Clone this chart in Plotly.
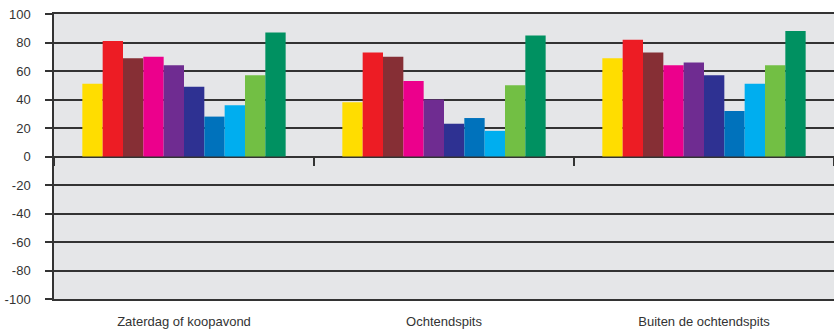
import plotly.graph_objects as go

categories = ["Zaterdag of koopavond", "Ochtendspits", "Buiten de ochtendspits"]
series_names = ["S1", "S2", "S3", "S4", "S5", "S6", "S7", "S8", "S9", "S10"]
values = [
    [51, 38, 69],
    [81, 73, 82],
    [69, 70, 73],
    [70, 53, 64],
    [64, 40, 66],
    [49, 23, 57],
    [28, 27, 32],
    [36, 18, 51],
    [57, 50, 64],
    [87, 85, 88],
]
colors = ["#FFDD00", "#ED1C24", "#862F35", "#EC008C", "#6F2C91",
          "#2E3192", "#0072BC", "#00AEEF", "#72BF44", "#009161"]
y_ticks = [-100, -80, -60, -40, -20, 0, 20, 40, 60, 80, 100]

fig = go.Figure()
for name, vals, col in zip(series_names, values, colors):
    fig.add_trace(go.Bar(x=categories, y=vals, name=name, marker_color=col,
                         marker_line_width=0))
# invisible trace to drive the zero-line category axis
fig.add_trace(go.Scatter(x=categories, y=[0, 0, 0], xaxis="x2", mode="markers",
                         marker_opacity=0, showlegend=False, hoverinfo="skip"))

font = dict(family="Liberation Sans, Arial, sans-serif", size=13, color="#333333")
fig.update_layout(
    width=834, height=331,
    margin=dict(l=54, r=0, t=14, b=32),
    paper_bgcolor="white",
    plot_bgcolor="#E5E6E8",
    barmode="group", bargap=0.218, bargroupgap=0,
    showlegend=False,
    font=font,
    xaxis=dict(type="category", categoryorder="array", categoryarray=categories,
               range=[-0.5, 2.5], showgrid=False, ticks="", showline=True,
               linecolor="#333333", linewidth=2, mirror=True, ticklabelstandoff=9,
               tickfont=font, automargin=False),
    xaxis2=dict(type="category", categoryorder="array", categoryarray=categories,
                range=[-0.5, 2.5], overlaying="x", anchor="free", position=0.5,
                showticklabels=False, ticks="outside", tickson="boundaries",
                ticklen=8, tickcolor="#333333", tickwidth=1.5, showgrid=False,
                showline=False, automargin=False),
    yaxis=dict(range=[-100, 100], tickvals=y_ticks, ticktext=[str(v) for v in y_ticks],
               showgrid=True, gridcolor="#333333", gridwidth=2,
               zeroline=True, zerolinecolor="#333333", zerolinewidth=2,
               showline=True, linecolor="#333333", linewidth=1.5,
               ticks="outside", ticklen=7, tickcolor="#333333", tickwidth=1.5,
               ticklabelstandoff=12, tickfont=font, automargin=False),
)
fig.write_html("out.html", config={"displayModeBar": False},
               post_script="document.body.style.margin='0';document.body.style.overflow='hidden';")
